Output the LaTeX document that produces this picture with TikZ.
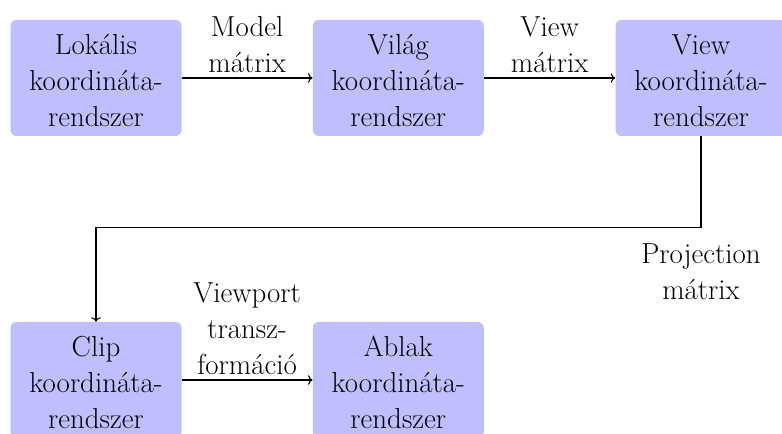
\documentclass[tikz,border=0pt]{standalone}
\usetikzlibrary{arrows.meta}
\begin{document}
\begin{tikzpicture}[x=0.75pt,y=-0.75pt,
  every node/.style={font=\fontsize{21.7}{27.2}\selectfont},
  box/.style={fill=blue!25, rounded corners=4.5pt, minimum width=128.25pt, minimum height=87pt, inner sep=0pt, align=center},
  conn/.style={line width=0.8pt, ->},
  lbl/.style={align=center}]
\clip (0,0) rectangle (782,434);
\node[box] (lok) at (96,78) {\strut Lokális\\koordináta-\\rendszer};
\node[box] (vil) at (398.3,78) {\strut Világ\\koordináta-\\rendszer};
\node[box] (view) at (701,78) {\strut View\\koordináta-\\rendszer};
\node[box] (clip) at (96,380) {\strut Clip\\koordináta-\\rendszer};
\node[box] (abl) at (398.3,380) {\strut Ablak\\koordináta-\\rendszer};
\draw[conn] (lok) -- node[above, lbl] {Model\\mátrix} (vil);
\draw[conn] (vil) -- node[above, lbl] {View\\mátrix} (view);
\draw[conn] (clip) -- node[above, lbl] {Viewport\\transz-\\formáció} (abl);
\draw[conn] (view.south) -- ++(0,91) -| (clip.north);
\node[lbl] (proj) at (701,272) {Projection\\mátrix};
\end{tikzpicture}
\end{document}
